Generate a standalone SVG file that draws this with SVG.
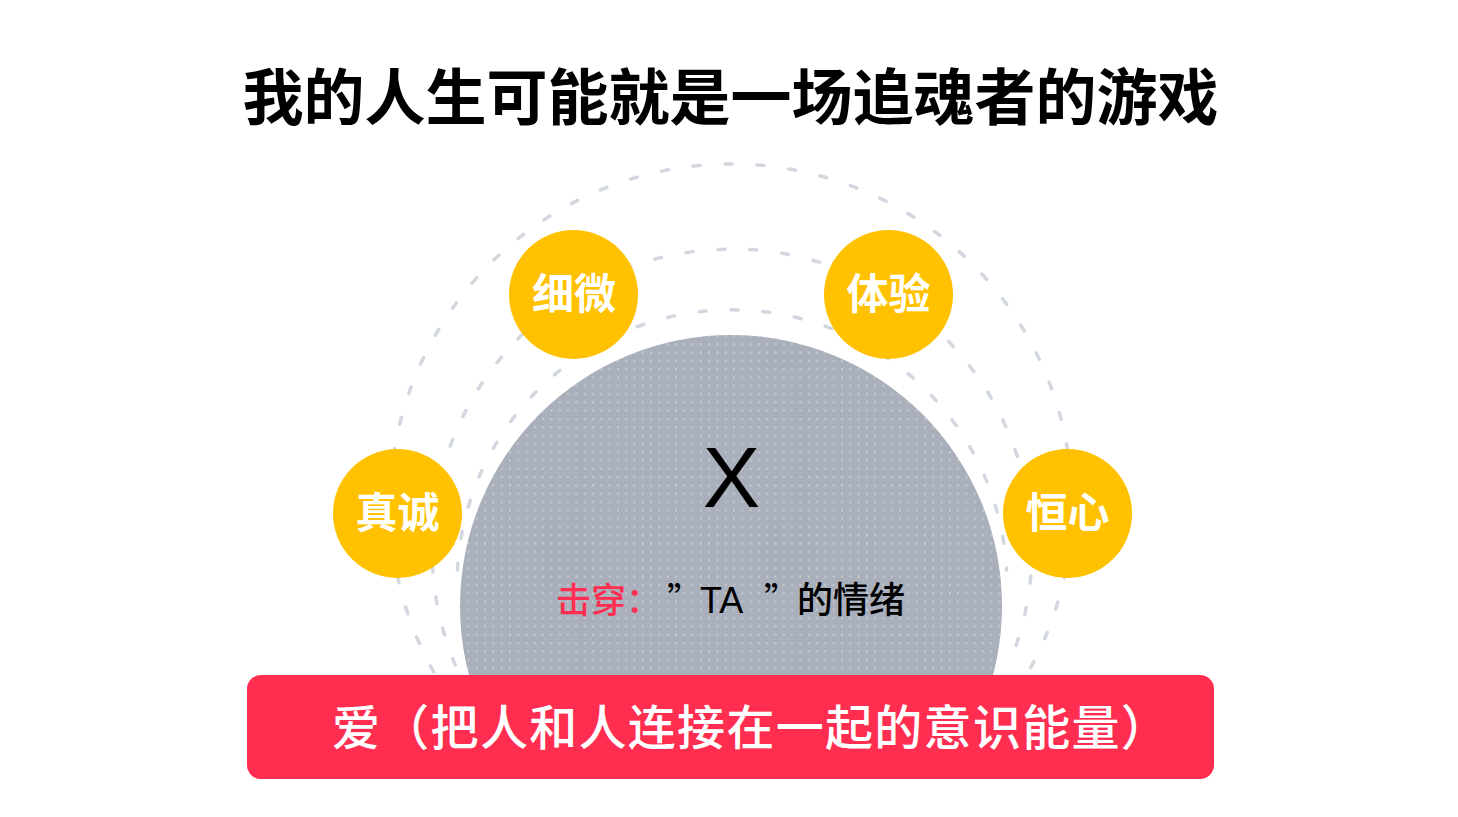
<svg xmlns="http://www.w3.org/2000/svg" width="1458" height="817" viewBox="0 0 1458 817">
  <defs>
    <pattern id="dots" x="0" y="0" width="8.3" height="8.3" patternUnits="userSpaceOnUse">
      <rect x="3" y="3" width="1.2" height="2" fill="#ffffff" fill-opacity="0.55"/>
    </pattern>
    <clipPath id="cut">
      <rect x="0" y="0" width="1458" height="677"/>
    </clipPath>
    <style>
      .arc { fill: none; stroke: #D3D7DF; stroke-width: 3.5; stroke-dasharray: 7 25; stroke-linecap: round; }
      .cjk { font-family: "Noto Sans CJK SC", "Noto Sans", sans-serif; }
      .yc { fill: #FFC100; }
      .yt { fill: #ffffff; font-size: 42px; font-weight: bold; text-anchor: middle; }
    </style>
  </defs>
  <rect x="0" y="0" width="1458" height="817" fill="#ffffff"/>

  <g id="title">
    <text class="cjk" x="730.5" y="120" font-size="61" font-weight="bold" text-anchor="middle" fill="#000000">我的人生可能就是一场追魂者的游戏</text>
  </g>

  <g id="connectors">
    <path class="arc" d="M 433.7 672 A 341 341 0 1 1 1028.3 672"/>
    <path class="arc" d="M 455.3 665 A 300 300 0 1 1 1008.7 665"/>
    <path class="arc" d="M 457.4 570 A 275 275 0 0 1 1006.6 570"/>
  </g>

  <g id="core">
    <g clip-path="url(#cut)">
      <circle cx="731" cy="606" r="271" fill="#A9AFBB"/>
      <circle cx="731" cy="606" r="271" fill="url(#dots)"/>
    </g>
    <text x="731.5" y="507" font-family="Liberation Sans, Arial, sans-serif" font-size="86" text-anchor="middle" fill="#000000">X</text>
    <text class="cjk" x="556" y="613" font-size="35" font-weight="500" fill="#FF2E50">击穿：</text>
    <text class="cjk" x="667" y="613" font-size="35" fill="#000000">”</text>
    <text x="700" y="613" font-family="Liberation Sans, Arial, sans-serif" font-size="36" fill="#000000">TA</text>
    <text class="cjk" x="764" y="613" font-size="35" fill="#000000">”</text>
    <text class="cjk" x="797" y="613" font-size="36" font-weight="500" fill="#000000">的情绪</text>
  </g>

  <g id="node-xiwei">
    <circle class="yc" cx="573.5" cy="294.5" r="64.5"/>
    <text class="cjk yt" x="574" y="309">细微</text>
  </g>
  <g id="node-tiyan">
    <circle class="yc" cx="888.5" cy="294.5" r="64.5"/>
    <text class="cjk yt" x="888.5" y="309">体验</text>
  </g>
  <g id="node-zhencheng">
    <circle class="yc" cx="397.5" cy="513.5" r="64.5"/>
    <text class="cjk yt" x="397.5" y="528">真诚</text>
  </g>
  <g id="node-hengxin">
    <circle class="yc" cx="1067.5" cy="513.5" r="64.5"/>
    <text class="cjk yt" x="1067.5" y="528">恒心</text>
  </g>

  <g id="love-bar">
    <rect x="247" y="675" width="967" height="104" rx="14" ry="14" fill="#FF2E50"/>
    <text class="cjk" x="332" y="745" font-size="48" font-weight="500" letter-spacing="1.3" fill="#ffffff">爱（把人和人连接在一起的意识能量）</text>
  </g>
</svg>
